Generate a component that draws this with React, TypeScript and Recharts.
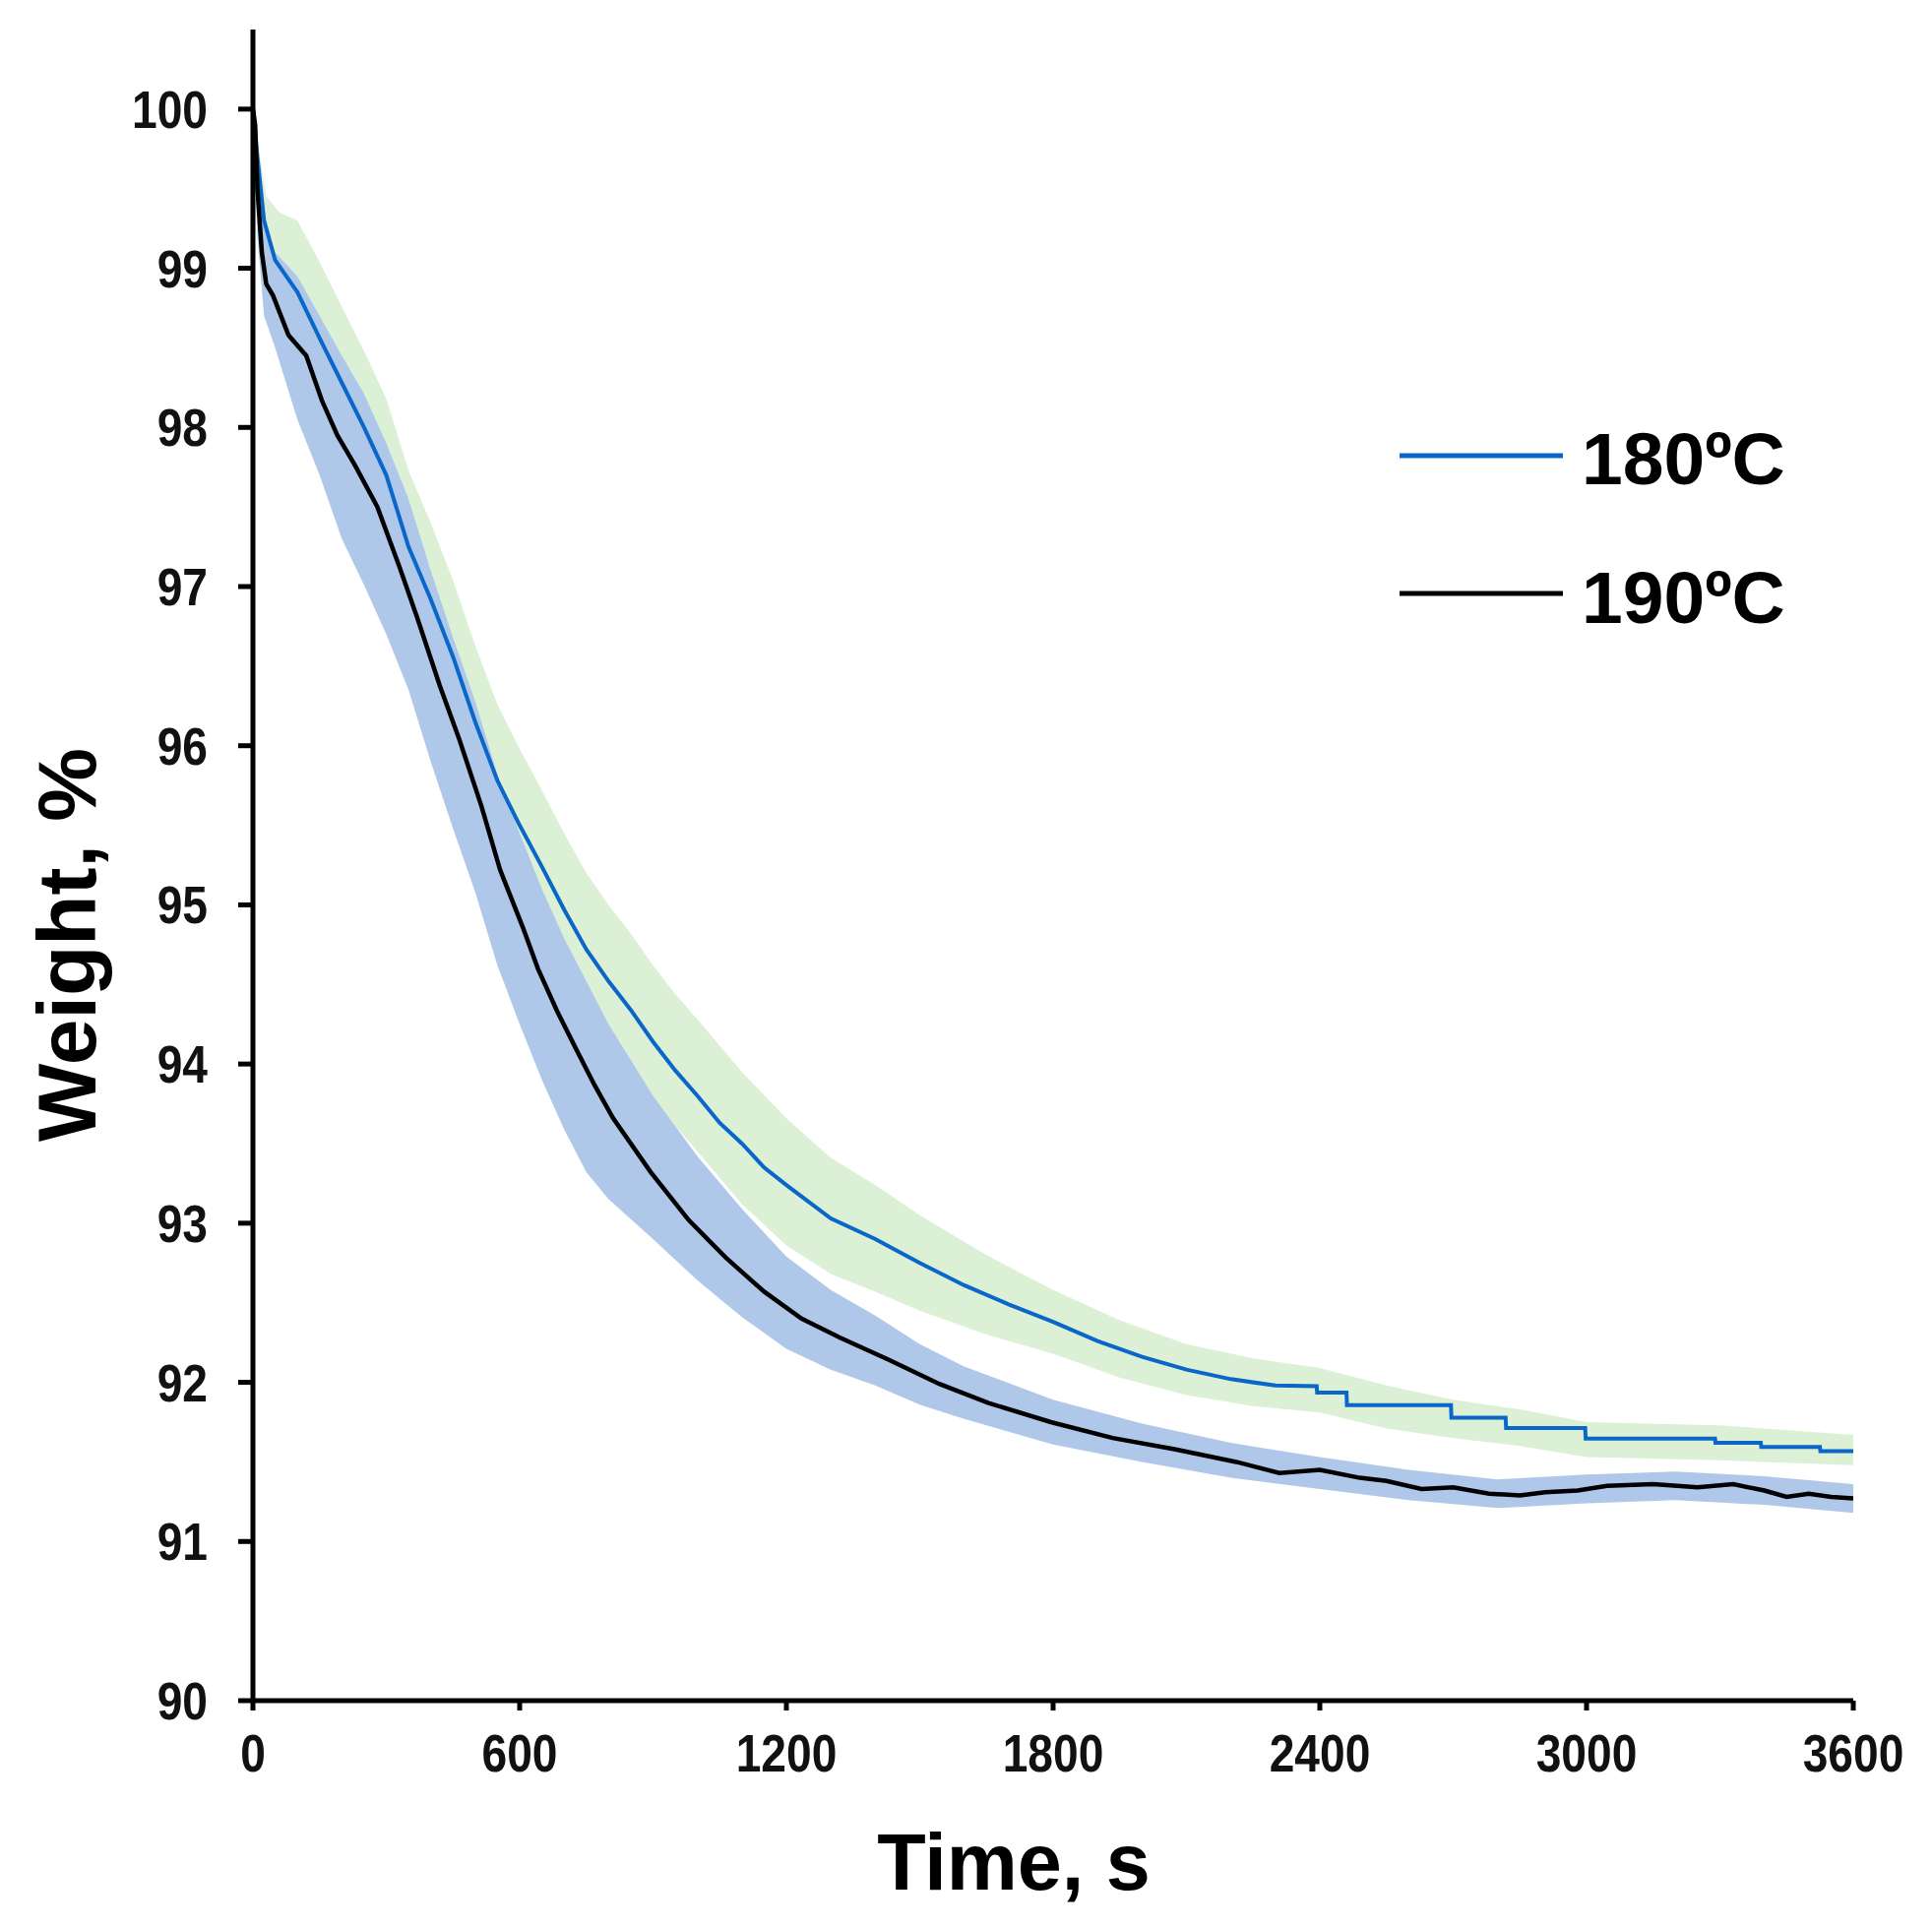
import React from 'react';
import { ComposedChart, Line, Area, XAxis, YAxis, Legend, Label } from 'recharts';

// ---- data ----
const time180 = [0, 10, 25, 50, 100, 150, 200, 250, 300, 350, 400, 450, 500, 550, 600, 650, 700, 750, 800, 850, 900, 950, 1000, 1050, 1100, 1150, 1200, 1300, 1400, 1500, 1600, 1700, 1800, 1900, 2000, 2100, 2200, 2300, 2393, 2394, 2460, 2461, 2695, 2696, 2818, 2819, 2997, 2998, 3289, 3290, 3392, 3393, 3525, 3526, 3600];
const weight180 = [100, 99.7, 99.3, 99.05, 98.85, 98.56, 98.28, 98.0, 97.7, 97.25, 96.92, 96.56, 96.15, 95.78, 95.5, 95.24, 94.97, 94.72, 94.52, 94.34, 94.14, 93.96, 93.8, 93.63, 93.5, 93.35, 93.24, 93.03, 92.9, 92.75, 92.61, 92.49, 92.38, 92.26, 92.16, 92.08, 92.02, 91.98, 91.976, 91.936, 91.936, 91.857, 91.857, 91.778, 91.778, 91.713, 91.713, 91.647, 91.647, 91.62, 91.62, 91.594, 91.594, 91.568, 91.568];

const time190 = [0, 5, 10, 20, 30, 45, 80, 120, 155, 190, 230, 280, 330, 370, 420, 463, 514, 556, 607, 641, 683, 726, 768, 810, 895, 980, 1065, 1150, 1234, 1321, 1432, 1544, 1655, 1795, 1934, 2073, 2212, 2309, 2400, 2490, 2550, 2629, 2700, 2781, 2850, 2907, 2980, 3046, 3150, 3250, 3330, 3400, 3450, 3500, 3550, 3600];
const weight190 = [100, 99.9, 99.5, 99.1, 98.9, 98.83, 98.58, 98.45, 98.17, 97.95, 97.76, 97.5, 97.12, 96.8, 96.38, 96.05, 95.62, 95.22, 94.86, 94.6, 94.34, 94.1, 93.87, 93.66, 93.32, 93.02, 92.78, 92.57, 92.4, 92.28, 92.14, 91.99, 91.87, 91.75, 91.65, 91.58, 91.5, 91.43, 91.45, 91.4, 91.38, 91.33, 91.34, 91.3, 91.29, 91.31, 91.32, 91.35, 91.36, 91.34, 91.36, 91.32, 91.28, 91.3, 91.28, 91.27];

const bandTime180 = [0, 10, 30, 60, 100, 150, 200, 250, 300, 350, 400, 450, 500, 550, 600, 650, 700, 750, 800, 850, 900, 950, 1000, 1100, 1200, 1300, 1400, 1500, 1650, 1800, 1950, 2100, 2250, 2400, 2550, 2700, 2850, 3000, 3300, 3600];
const bandLow180 = [100, 99.6, 99.05, 98.8, 98.6, 98.21, 97.93, 97.65, 97.35, 96.9, 96.57, 96.21, 95.8, 95.43, 95.15, 94.89, 94.62, 94.37, 94.17, 93.99, 93.79, 93.61, 93.45, 93.12, 92.86, 92.68, 92.57, 92.45, 92.3, 92.18, 92.03, 91.92, 91.85, 91.81, 91.71, 91.65, 91.6, 91.53, 91.51, 91.48];
const bandHigh180 = [100, 99.8, 99.45, 99.35, 99.3, 99.04, 98.76, 98.48, 98.18, 97.73, 97.4, 97.04, 96.63, 96.26, 95.98, 95.72, 95.45, 95.2, 95.0, 94.82, 94.62, 94.44, 94.28, 93.95, 93.66, 93.41, 93.24, 93.05, 92.8, 92.58, 92.39, 92.24, 92.15, 92.09, 91.98, 91.89, 91.83, 91.75, 91.73, 91.67];

const bandTime190 = [0, 10, 25, 50, 100, 150, 200, 250, 300, 350, 400, 450, 500, 550, 600, 650, 700, 750, 800, 900, 1000, 1100, 1200, 1300, 1400, 1500, 1600, 1800, 2000, 2200, 2400, 2600, 2800, 3000, 3200, 3400, 3600];
const bandLow190 = [100, 99.2, 98.7, 98.5, 98.05, 97.7, 97.3, 97.01, 96.7, 96.35, 95.9, 95.48, 95.08, 94.62, 94.25, 93.9, 93.59, 93.32, 93.15, 92.9, 92.64, 92.41, 92.21, 92.08, 91.98, 91.86, 91.77, 91.61, 91.5, 91.4, 91.33, 91.26, 91.21, 91.24, 91.26, 91.23, 91.18];
const bandHigh190 = [100, 99.75, 99.3, 99.1, 98.95, 98.7, 98.45, 98.21, 97.9, 97.55, 97.1, 96.68, 96.28, 95.82, 95.45, 95.1, 94.79, 94.52, 94.25, 93.8, 93.42, 93.09, 92.79, 92.58, 92.42, 92.24, 92.1, 91.89, 91.74, 91.62, 91.53, 91.45, 91.39, 91.42, 91.44, 91.41, 91.36];

const xTicks = [0, 600, 1200, 1800, 2400, 3000, 3600];
const yTicks = [90, 91, 92, 93, 94, 95, 96, 97, 98, 99, 100];
const seriesNames = ['180\u00baC', '190\u00baC'];

// ---- derived tables for the library ----
const line180 = time180.map((t, i) => ({ t, w: weight180[i] }));
const line190 = time190.map((t, i) => ({ t, w: weight190[i] }));
const band180 = bandTime180.map((t, i) => ({ t, r: [bandLow180[i], bandHigh180[i]] }));
const band190 = bandTime190.map((t, i) => ({ t, r: [bandLow190[i], bandHigh190[i]] }));

const BLUE = '#0a66c8';
const GREEN_BAND = '#dcf0d6';
const BLUE_BAND = '#afc8e9';
const FONT = "'Liberation Sans', Arial, sans-serif";

const XTick = (props: any) => {
  const { x, y, payload } = props;
  return (
    <text transform={`translate(${x}, ${y + 62}) scale(0.87, 1)`} textAnchor="middle" fontFamily={FONT} fontWeight="bold" fontSize={53} fill="#111">
      {payload.value}
    </text>
  );
};

const YTick = (props: any) => {
  const { x, y, payload } = props;
  return (
    <text transform={`translate(${x}, ${y + 19}) scale(0.87, 1)`} textAnchor="end" fontFamily={FONT} fontWeight="bold" fontSize={53} fill="#111">
      {payload.value}
    </text>
  );
};

const XTitle = (props: any) => {
  const vb = props.viewBox;
  return (
    <text x={vb.x + vb.width / 2 - 40} y={vb.y + 192} textAnchor="middle" fontFamily={FONT} fontWeight="bold" fontSize={81} fill="#000">
      Time, s
    </text>
  );
};

const YTitle = (props: any) => {
  const vb = props.viewBox;
  const cx = vb.x + 89;
  const cy = vb.y + vb.height / 2 + 81;
  return (
    <text x={cx} y={cy} transform={`rotate(-90, ${cx}, ${cy})`} textAnchor="middle" fontFamily={FONT} fontWeight="bold" fontSize={84} fill="#000">
      Weight, %
    </text>
  );
};

const LegendBox = () => (
  <svg width={460} height={260}>
    <line x1={22} x2={188} y1={63} y2={63} stroke={BLUE} strokeWidth={5} />
    <text x={207} y={92} fontFamily={FONT} fontWeight="bold" fontSize={75} fill="#000">{seriesNames[0]}</text>
    <line x1={22} x2={188} y1={203} y2={203} stroke="#000" strokeWidth={5} />
    <text x={207} y={233} fontFamily={FONT} fontWeight="bold" fontSize={75} fill="#000">{seriesNames[1]}</text>
  </svg>
);

export default function App() {
  return (
    <div style={{ width: 1955, height: 1950, background: '#fff' }}>
      <ComposedChart width={1955} height={1950} margin={{ top: 22, right: 80, bottom: 0, left: 0 }}>
        <XAxis
          dataKey="t"
          type="number"
          domain={[0, 3600]}
          ticks={xTicks}
          interval={0}
          height={230}
          axisLine={{ stroke: '#000', strokeWidth: 5 }}
          tickLine={{ stroke: '#000', strokeWidth: 5 }}
          tickSize={10}
          tickMargin={0}
          tick={<XTick />}
          allowDataOverflow
        >
          <Label content={<XTitle />} />
        </XAxis>
        <YAxis
          type="number"
          domain={[90, 100.5]}
          ticks={yTicks}
          interval={0}
          width={249}
          axisLine={{ stroke: '#000', strokeWidth: 5 }}
          tickLine={{ stroke: '#000', strokeWidth: 5 }}
          tickSize={15}
          tickMargin={31}
          tick={<YTick />}
          allowDataOverflow
        >
          <Label content={<YTitle />} />
        </YAxis>
        <Area data={band180} dataKey="r" type="linear" stroke="none" fill={GREEN_BAND} fillOpacity={1} isAnimationActive={false} legendType="none" />
        <Area data={band190} dataKey="r" type="linear" stroke="none" fill={BLUE_BAND} fillOpacity={1} isAnimationActive={false} legendType="none" />
        <Line data={line180} dataKey="w" name={seriesNames[0]} type="linear" stroke={BLUE} strokeWidth={4} dot={false} isAnimationActive={false} />
        <Line data={line190} dataKey="w" name={seriesNames[1]} type="linear" stroke="#000" strokeWidth={4.5} dot={false} isAnimationActive={false} />
        <Legend
          layout="vertical"
          align="center"
          verticalAlign="middle"
          content={<LegendBox />}
          wrapperStyle={{ position: 'absolute', left: 1392, top: 392, width: 460, height: 260 }}
        />
      </ComposedChart>
    </div>
  );
}
